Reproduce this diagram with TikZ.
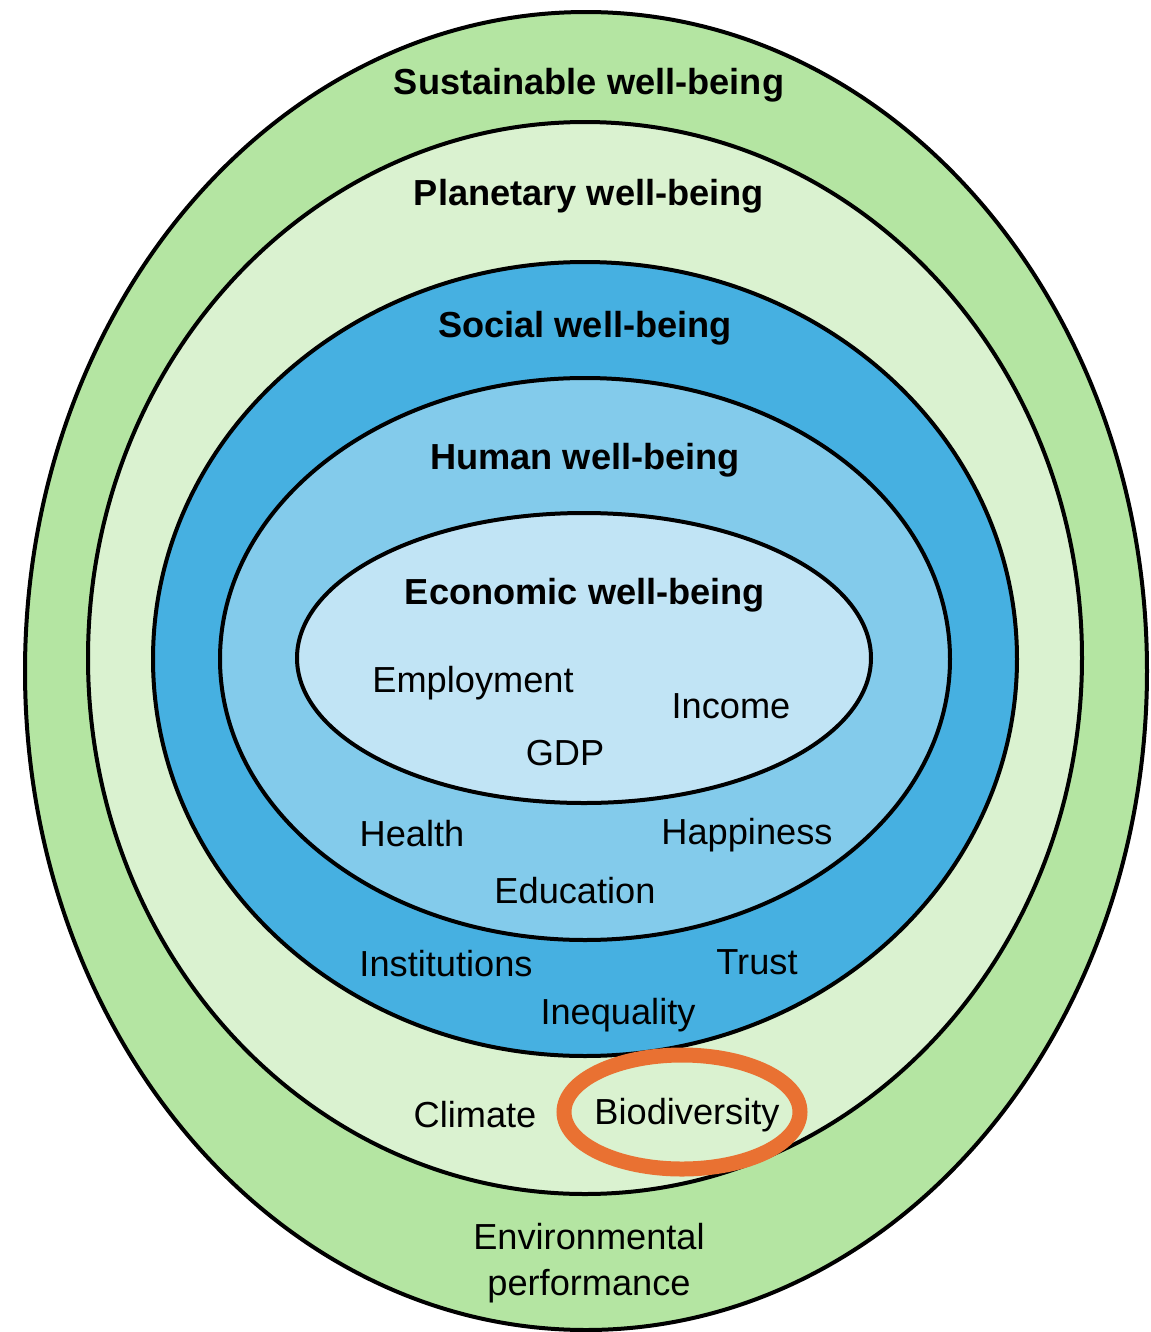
\documentclass[tikz,border=0pt]{standalone}
\usepackage{fontspec}
\setmainfont{Liberation Sans}
\usetikzlibrary{shapes.geometric}

\definecolor{sustgreen}{HTML}{B4E5A2}
\definecolor{planetgreen}{HTML}{DAF2D0}
\definecolor{socialblue}{HTML}{46B0E1}
\definecolor{humanblue}{HTML}{83CBEB}
\definecolor{econblue}{HTML}{C1E4F5}
\definecolor{markorange}{HTML}{E97132}

\begin{document}
\begin{tikzpicture}[x = 0.1mm, y = -0.1mm,
                        ring/.style = {ellipse, draw, line width = 0.4mm, inner sep = 0pt},
                        title/.style = {font = \fontsize{10.3}{12.4}\selectfont\bfseries},
                        item/.style = {font = \fontsize{10.3}{13}\selectfont, align = center}]
      \useasboundingbox (0, 0) rectangle (1150, 1332);
      % nested circles of well-being
      \node [ring, fill = sustgreen, minimum width = 112.2mm, minimum height = 131.8mm] (sust) at (586, 671){};
      \node [ring, fill = planetgreen, minimum width = 99.4mm, minimum height = 107.2mm] (planet) at (585, 658){};
      \node [ring, fill = socialblue, minimum width = 86.4mm, minimum height = 79.4mm] (social) at (585, 659){};
      \node [ring, fill = humanblue, minimum width = 73mm, minimum height = 56.2mm] (human) at (585, 659){};
      \node [ring, fill = econblue, minimum width = 57.4mm, minimum height = 29mm] (econ) at (584, 658){};
      % titles
      \node [title] (sustT) at (589, 85){Sustainable well-being};
      \node [title] (planetT) at (589, 196){Planetary well-being};
      \node [title] (socialT) at (585, 328){Social well-being};
      \node [title] (humanT) at (585, 460){Human well-being};
      \node [title] (econT) at (585, 595){Economic well-being};
      % indicators
      \node [item] (employment) at (473, 683){Employment};
      \node [item] (income) at (731, 706){Income};
      \node [item] (gdp) at (565, 753){GDP};
      \node [item] (health) at (412, 834){Health};
      \node [item] (happiness) at (747, 835){Happiness};
      \node [item] (education) at (575, 891){Education};
      \node [item] (institutions) at (446, 964){Institutions};
      \node [item] (trust) at (757, 962){Trust};
      \node [item] (inequality) at (618, 1015){Inequality};
      \node [item] (climate) at (475, 1115){Climate};
      \node [item] (biodiv) at (687, 1115){Biodiversity};
      \node [item] (envperf) at (589, 1263){Environmental\\performance};
      % highlight
      \node [ellipse, draw = markorange, line width = 1.5mm, minimum width = 23.6mm, minimum height = 11.4mm] (mark) at (682, 1112){};
    \end{tikzpicture}
\end{document}
